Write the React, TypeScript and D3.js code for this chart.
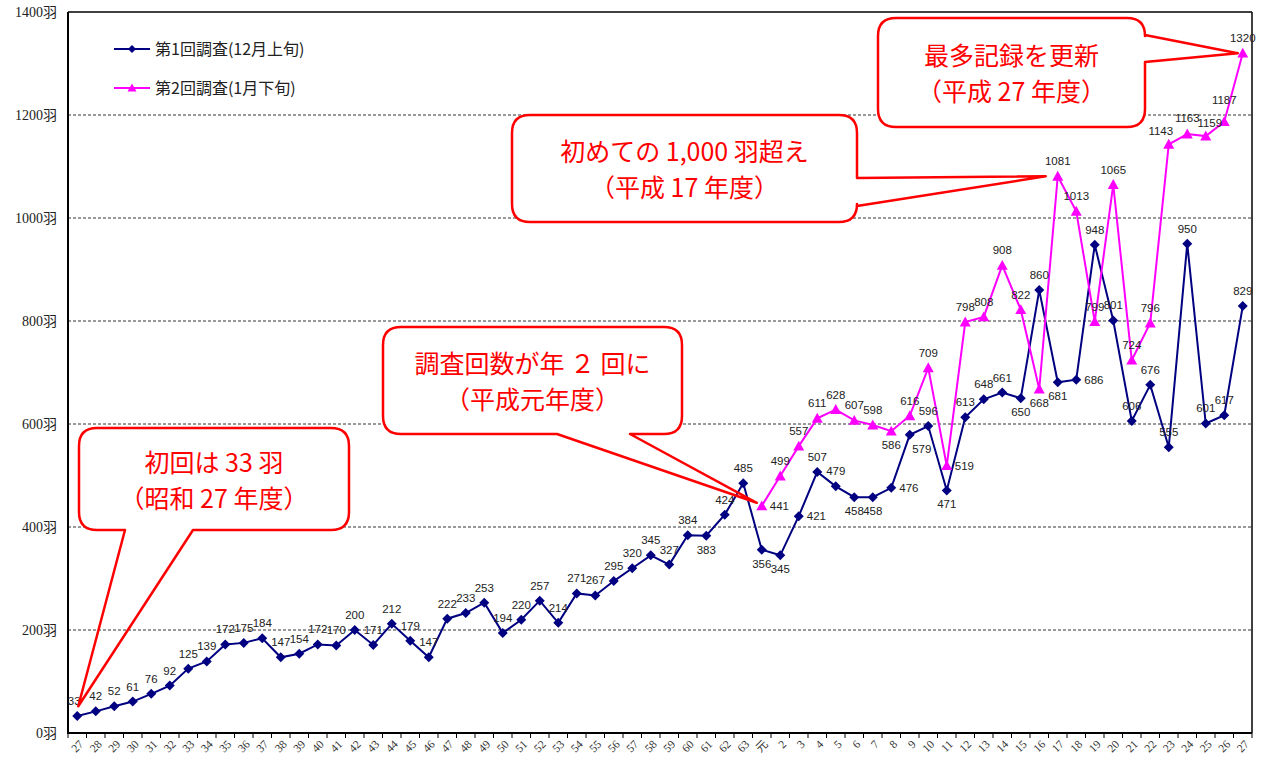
import * as d3 from 'd3';

// 昭和27年度〜63年度, 平成元年度〜27年度
const categories = [
  '27', '28', '29', '30', '31', '32', '33', '34', '35', '36', '37', '38', '39', '40',
  '41', '42', '43', '44', '45', '46', '47', '48', '49', '50', '51', '52', '53', '54',
  '55', '56', '57', '58', '59', '60', '61', '62', '63',
  '元', '2', '3', '4', '5', '6', '7', '8', '9', '10', '11', '12', '13', '14', '15',
  '16', '17', '18', '19', '20', '21', '22', '23', '24', '25', '26', '27',
];

// 第1回調査(12月上旬)
const survey1 = [
  33, 42, 52, 61, 76, 92, 125, 139, 172, 175, 184, 147, 154, 172, 170, 200, 171, 212,
  179, 147, 222, 233, 253, 194, 220, 257, 214, 271, 267, 295, 320, 345, 327, 384, 383,
  424, 485,
  356, 345, 421, 507, 479, 458, 458, 476, 579, 596, 471, 613, 648, 661, 650, 860, 681,
  686, 948, 801, 606, 676, 555, 950, 601, 617, 829,
];

// 第2回調査(1月下旬) — starts 平成元年度
const survey2 = [
  441, 499, 557, 611, 628, 607, 598, 586, 616, 709, 519, 798, 808, 908, 822, 668, 1081,
  1013, 799, 1065, 724, 796, 1143, 1163, 1159, 1187, 1320,
];

const yTicks = [0, 200, 400, 600, 800, 1000, 1200, 1400];

const seriesNames = ['第1回調査(12月上旬)', '第2回調査(1月下旬)'];

const callouts = [
  { lines: ['初回は 33 羽', '（昭和 27 年度）'], target: 0, value: 52, dx: 1 },
  { lines: ['調査回数が年 ２ 回に', '（平成元年度）'], target: 37, value: 447, dx: -5 },
  { lines: ['初めての 1,000 羽超え', '（平成 17 年度）'], target: 53, value: 1081, dx: -12 },
  { lines: ['最多記録を更新', '（平成 27 年度）'], target: 63, value: 1320, dx: -5 },
];

const W = 1261;
const H = 763;
const plot = { left: 68, right: 1252, top: 12, bottom: 733 };
const NAVY = '#000080';
const PINK = '#ff00ff';
const RED = '#ff0000';
const JP = '"Noto Sans CJK JP", sans-serif';
const SERIF = '"Liberation Serif", "Noto Sans CJK JP", serif';
const SANS = '"Liberation Sans", "DejaVu Sans", sans-serif';

const diamond = (s: number) => `M0,${-s}L${s},0L0,${s}L${-s},0Z`;
const triangle = (s: number) => `M0,${-s}L${s},${s * 0.8}L${-s},${s * 0.8}Z`;

// rounded box with a speech pointer, drawn clockwise
function calloutPath(
  x: number, y: number, w: number, h: number, r: number,
  side: 'bottom' | 'right', b1: number, b2: number, tx: number, ty: number
) {
  const p = d3.path();
  p.moveTo(x + r, y);
  p.lineTo(x + w - r, y);
  p.quadraticCurveTo(x + w, y, x + w, y + r);
  if (side === 'right') {
    p.lineTo(x + w, b1);
    p.lineTo(tx, ty);
    p.lineTo(x + w, b2);
  }
  p.lineTo(x + w, y + h - r);
  p.quadraticCurveTo(x + w, y + h, x + w - r, y + h);
  if (side === 'bottom') {
    p.lineTo(b2, y + h);
    p.lineTo(tx, ty);
    p.lineTo(b1, y + h);
  }
  p.lineTo(x + r, y + h);
  p.quadraticCurveTo(x, y + h, x, y + h - r);
  p.lineTo(x, y + r);
  p.quadraticCurveTo(x, y, x + r, y);
  p.closePath();
  return p.toString();
}

export default function App() {
  const idx = d3.range(categories.length);
  const x = d3.scaleBand<number>().domain(idx).range([plot.left, plot.right]).padding(0);
  const bw = x.bandwidth();
  const cx = (i: number) => (x(i) as number) + bw / 2;
  const y = d3.scaleLinear().domain([0, 1400]).range([plot.bottom, plot.top]);

  const start2 = categories.indexOf('元');
  const pts1 = survey1.map((v, i) => ({ i, v }));
  const pts2 = survey2.map((v, k) => ({ i: start2 + k, v }));

  const line = d3.line<{ i: number; v: number }>().x((d) => cx(d.i)).y((d) => y(d.v));

  // label placement (default above) and small nudges
  const pos1: Record<number, string> = {
    34: 'b', 37: 'b', 38: 'b', 42: 'b', 43: 'b', 45: 'b', 47: 'b', 51: 'b', 53: 'b',
    39: 'r', 44: 'r', 54: 'r',
  };
  const pos2: Record<number, string> = { 37: 'r', 47: 'r', 44: 'b', 52: 'b' };
  const nudge1: Record<number, [number, number]> = { 0: [-3, 0], 45: [12, 0] };
  const nudge2: Record<number, [number, number]> = { 59: [-8, 2], 60: [0, -1], 61: [4, 2], 62: [0, -7] };

  const label = (
    d: { i: number; v: number }, pos: string | undefined, n: [number, number] | undefined, key: string
  ) => {
    const px = cx(d.i);
    const py = y(d.v);
    let tx = px;
    let ty = py - 11;
    let anchor = 'middle';
    if (pos === 'b') ty = py + 18;
    if (pos === 'r') { tx = px + 8; ty = py + 4; anchor = 'start'; }
    if (n) { tx += n[0]; ty += n[1]; }
    return (
      <text key={key} x={tx} y={ty} textAnchor={anchor} fontSize={11.5} fontFamily={SANS} fill="#222">
        {d.v}
      </text>
    );
  };

  const boxes = [
    { x: 79, y: 428, w: 270, h: 102, side: 'bottom' as const, b1: 125, b2: 193 },
    { x: 383, y: 327, w: 299, h: 107, side: 'bottom' as const, b1: 557, b2: 630 },
    { x: 512, y: 115, w: 345, h: 107, side: 'right' as const, b1: 178, b2: 206 },
    { x: 878, y: 18, w: 267, h: 109, side: 'right' as const, b1: 35, b2: 62 },
  ];

  return (
    <div>
      <style>{'body{margin:0}'}</style>
      <svg width={W} height={H} style={{ display: 'block', background: '#fff' }}>
        {/* gridlines */}
        {yTicks.slice(1, -1).map((t) => (
          <line key={t} x1={plot.left} x2={plot.right} y1={y(t)} y2={y(t)}
            stroke="#000" strokeWidth={0.8} strokeDasharray="3,2" />
        ))}
        {/* frame */}
        <line x1={plot.left} x2={plot.right} y1={plot.top} y2={plot.top} stroke="#000" strokeWidth={1.5} />
        <line x1={plot.right} x2={plot.right} y1={plot.top} y2={plot.bottom} stroke="#000" strokeWidth={1.5} />
        <line x1={plot.left} x2={plot.left} y1={plot.top} y2={plot.bottom + 1} stroke="#000" strokeWidth={2} />
        <line x1={plot.left} x2={plot.right} y1={plot.bottom} y2={plot.bottom} stroke="#000" strokeWidth={2} />

        {/* y axis labels */}
        {yTicks.map((t) => (
          <text key={t} x={57} y={y(t)} dy="0.35em" textAnchor="end" fontSize={14}
            fontFamily={SERIF} fill="#222">{`${t}羽`}</text>
        ))}

        {/* x ticks + labels */}
        {d3.range(categories.length + 1).map((k) => {
          const xx = plot.left + k * bw;
          return <line key={'t' + k} x1={xx} x2={xx} y1={plot.bottom} y2={plot.bottom + 5} stroke="#000" strokeWidth={1} />;
        })}
        {categories.map((c, i) => (
          <text key={'x' + i} transform={`translate(${cx(i) + 4},${plot.bottom + 9}) rotate(-45)`}
            textAnchor="end" dy="0.35em" fontSize={11.5} fontFamily={SERIF} fill="#333">{c}</text>
        ))}

        {/* series */}
        <path d={line(pts1) ?? ''} fill="none" stroke={NAVY} strokeWidth={2} />
        <path d={line(pts2) ?? ''} fill="none" stroke={PINK} strokeWidth={2} />
        {pts1.map((d) => (
          <path key={'m1' + d.i} d={diamond(5)} transform={`translate(${cx(d.i)},${y(d.v)})`} fill={NAVY} />
        ))}
        {pts2.map((d) => (
          <path key={'m2' + d.i} d={triangle(5.5)} transform={`translate(${cx(d.i)},${y(d.v)})`} fill={PINK} />
        ))}
        {pts1.map((d) => label(d, pos1[d.i], nudge1[d.i], 'l1' + d.i))}
        {pts2.map((d) => label(d, pos2[d.i], nudge2[d.i], 'l2' + d.i))}

        {/* legend */}
        <g>
          <line x1={114} x2={150} y1={49} y2={49} stroke={NAVY} strokeWidth={2} />
          <path d={diamond(4)} transform="translate(132,49)" fill={NAVY} />
          <text x={155} y={49} dy="0.35em" fontSize={16} fontFamily={JP} fill="#222">{seriesNames[0]}</text>
          <line x1={114} x2={150} y1={88} y2={88} stroke={PINK} strokeWidth={2} />
          <path d={triangle(4.5)} transform="translate(132,88)" fill={PINK} />
          <text x={155} y={88} dy="0.35em" fontSize={16} fontFamily={JP} fill="#222">{seriesNames[1]}</text>
        </g>

        {/* callouts */}
        {callouts.map((c, k) => {
          const b = boxes[k];
          const tx = cx(c.target) + c.dx;
          const ty = y(c.value);
          const mid = b.y + b.h / 2;
          return (
            <g key={'c' + k}>
              <rect x={b.x} y={b.y} width={b.w} height={b.h} rx={18} fill="#fff" />
              <path d={calloutPath(b.x, b.y, b.w, b.h, 18, b.side, b.b1, b.b2, tx, ty)}
                fill="none" stroke={RED} strokeWidth={2.5} strokeLinejoin="round" />
              {c.lines.map((t, j) => (
                <text key={j} x={b.x + b.w / 2} y={mid + (j === 0 ? -16 : 20)} dy="0.35em"
                  textAnchor="middle" fontSize={25} fontFamily={JP} fill={RED}>{t}</text>
              ))}
            </g>
          );
        })}
      </svg>
    </div>
  );
}
